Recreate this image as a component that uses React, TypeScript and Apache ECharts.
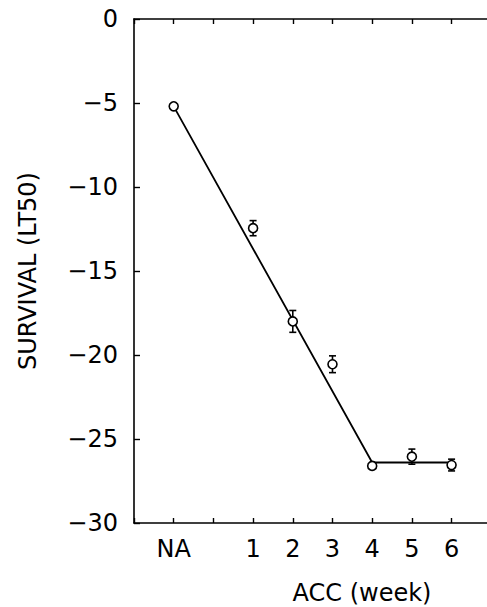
import { useEffect, useRef } from 'react';
import * as echarts from 'echarts';

// x positions: "NA" (non-acclimated) placed at -1, weeks 1..6
const weekPositions = [-1, 1, 2, 3, 4, 5, 6];
const weekLabels = ['NA', '1', '2', '3', '4', '5', '6'];
const lt50Values = [-5.2, -12.45, -18.0, -20.55, -26.6, -26.05, -26.55];
const lt50Errors = [0.1, 0.45, 0.65, 0.5, 0.1, 0.45, 0.35];
const fitX = [-1, 4, 6];
const fitY = [-5.2, -26.4, -26.4];

const FONT = 'DejaVu Sans';

export default function App() {
  const ref = useRef<HTMLDivElement>(null);
  useEffect(() => {
    if (!ref.current) return;
    const chart = echarts.init(ref.current, undefined, { renderer: 'svg' });
    const labelFor = (v: number) => {
      const i = weekPositions.indexOf(v);
      return i >= 0 ? weekLabels[i] : '';
    };
    const xBase = {
      type: 'value' as const,
      min: -2,
      max: 7.9,
      interval: 1,
      splitLine: { show: false },
      axisLine: { show: true, onZero: false, lineStyle: { color: '#000', width: 1.6 } },
      axisTick: { show: true, inside: true, length: 5, lineStyle: { color: '#000', width: 1.4 } },
    };
    chart.setOption({
      animation: false,
      backgroundColor: '#fff',
      grid: { left: 134, right: 0, top: 19, bottom: 84, containLabel: false },
      xAxis: [
        {
          ...xBase,
          position: 'bottom',
          axisLabel: {
            show: true,
            margin: 14,
            color: '#000',
            fontFamily: FONT,
            fontSize: 24,
            formatter: (v: number) => labelFor(v),
          },
        },
        {
          ...xBase,
          position: 'top',
          axisLabel: { show: false },
        },
      ],
      yAxis: {
        type: 'value',
        min: -30,
        max: 0,
        interval: 5,
        splitLine: { show: false },
        axisLine: { show: true, onZero: false, lineStyle: { color: '#000', width: 1.6 } },
        axisTick: { show: true, inside: true, length: 6, lineStyle: { color: '#000', width: 1.4 } },
        axisLabel: {
          margin: 16,
          color: '#000',
          fontFamily: FONT,
          fontSize: 24,
          formatter: (v: number) => (v === 0 ? '0' : '\u2212' + Math.abs(v)),
        },
        name: 'SURVIVAL (LT50)',
        nameLocation: 'middle',
        nameGap: 94,
        nameTextStyle: { color: '#000', fontFamily: FONT, fontSize: 24 },
      },
      graphic: [
        {
          type: 'text',
          x: 362,
          y: 593,
          style: {
            text: 'ACC (week)',
            fill: '#000',
            font: `24px "${FONT}"`,
            textAlign: 'center',
            textVerticalAlign: 'middle',
          },
        },
      ],
      series: [
        {
          type: 'line',
          data: fitX.map((x, i) => [x, fitY[i]]),
          showSymbol: false,
          symbol: 'none',
          lineStyle: { color: '#000', width: 1.8 },
          z: 2,
        },
        {
          type: 'custom',
          data: weekPositions.map((x, i) => [x, lt50Values[i], lt50Errors[i]]),
          renderItem: (params: any, api: any) => {
            const x = api.value(0);
            const y = api.value(1);
            const e = api.value(2);
            const top = api.coord([x, y + e]);
            const bot = api.coord([x, y - e]);
            const style = { stroke: '#000', lineWidth: 1.6 };
            return {
              type: 'group',
              children: [
                { type: 'line', shape: { x1: top[0], y1: top[1], x2: bot[0], y2: bot[1] }, style },
                { type: 'line', shape: { x1: top[0] - 3.5, y1: top[1], x2: top[0] + 3.5, y2: top[1] }, style },
                { type: 'line', shape: { x1: bot[0] - 3.5, y1: bot[1], x2: bot[0] + 3.5, y2: bot[1] }, style },
              ],
            };
          },
          z: 3,
        },
        {
          type: 'scatter',
          data: weekPositions.map((x, i) => [x, lt50Values[i]]),
          symbol: 'circle',
          symbolSize: 9,
          itemStyle: { color: '#fff', opacity: 1, borderColor: '#000', borderWidth: 1.6 },
          z: 4,
        },
      ],
    });
    return () => chart.dispose();
  }, []);
  return (
    <div
      style={{ position: 'absolute', left: 0, top: 0, width: 487, height: 607, overflow: 'hidden', background: '#fff' }}
    >
      <div ref={ref} style={{ width: 530, height: 607 }} />
    </div>
  );
}
